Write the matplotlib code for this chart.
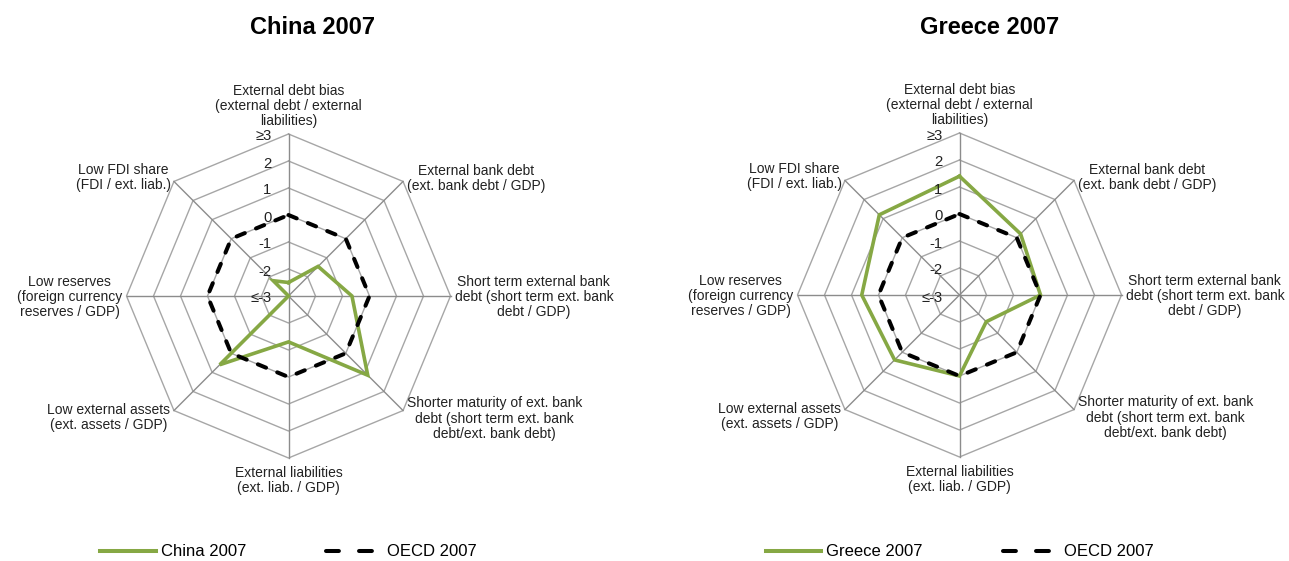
import numpy as np
import matplotlib
matplotlib.use("Agg")
import matplotlib.pyplot as plt
from matplotlib.lines import Line2D

# ---------------- data ----------------
categories = [
    "External debt bias\n(external debt / external\nliabilities)",
    "External bank debt\n(ext. bank debt / GDP)",
    "Short term external bank\ndebt (short term ext. bank\ndebt / GDP)",
    "Shorter maturity of ext. bank\ndebt (short term ext. bank\ndebt/ext. bank debt)",
    "External liabilities\n(ext. liab. / GDP)",
    "Low external assets\n(ext. assets / GDP)",
    "Low reserves\n(foreign currency\nreserves / GDP)",
    "Low FDI share\n(FDI / ext. liab.)",
]
china_2007 = [-2.5, -1.45, -0.65, 1.15, -1.3, 0.6, -3.0, -2.2]
greece_2007 = [1.4, 0.2, 0.0, -1.6, 0.0, 0.4, 0.62, 1.2]
oecd_2007 = [0, 0, 0, 0, 0, 0, 0, 0]
tick_values = [-3, -2, -1, 0, 1, 2, 3]
tick_labels = ["≤-3", "-2", "-1", "0", "1", "2", "≥3"]
charts = [("China 2007", china_2007), ("Greece 2007", greece_2007)]
oecd_label = "OECD 2007"

# ---------------- style ----------------
plt.rcParams["font.family"] = ["Liberation Sans", "DejaVu Sans"]
FS = 10
TICK_FS = 10.6
LEG_FS = 12
GREEN = "#86a844"
GRID = "#a6a6a6"
SPOKE = "#8c8c8c"

W, H = 1289, 561
fig = plt.figure(figsize=(W / 100, H / 100), dpi=100)
R = 162
PX = 0.72  # points per pixel at 100 dpi

centers = [(288.5, 296), (959.5, 295)]
title_x = [312, 990]

# label placement (ha, va, dx px, dy px) relative to each outer vertex
label_pos = [
    ("center", "bottom", 0, 6),
    ("left", "center", 4, 3),
    ("left", "center", 4, -1),
    ("left", "center", 4, -8),
    ("center", "top", 0, -8),
    ("right", "center", -4, -7),
    ("right", "center", -4, -1),
    ("right", "center", -3, 4),
]

n = len(categories)
angles = np.arange(n) * 2 * np.pi / n
ang_closed = np.append(angles, angles[0])

for (title, values), (cx, cy), tx in zip(charts, centers, title_x):
    ax = fig.add_axes([(cx - R) / W, (H - cy - R) / H, 2 * R / W, 2 * R / H],
                      projection="polar")
    ax.set_theta_zero_location("N")
    ax.set_theta_direction(-1)
    ax.set_ylim(tick_values[0], tick_values[-1])
    ax.set_xticks([])
    ax.set_yticks([])
    ax.grid(False)
    ax.spines["polar"].set_visible(False)
    ax.patch.set_visible(False)

    # octagonal grid rings
    for lv in tick_values[1:]:
        ax.plot(ang_closed, [lv] * (n + 1), color=GRID, lw=1.0, clip_on=False, zorder=1)
    # spokes
    for a in angles:
        ax.plot([a, a], [tick_values[0], tick_values[-1]], color=SPOKE, lw=1.0,
                clip_on=False, zorder=1)

    # series
    ax.plot(ang_closed, list(values) + [values[0]], color=GREEN, lw=2.6,
            solid_joinstyle="miter", clip_on=False, zorder=3)
    ax.plot(ang_closed, oecd_2007 + [oecd_2007[0]], color="black", lw=2.9,
            linestyle=(0, (2.2, 3.0)), dash_capstyle="round", clip_on=False, zorder=4)

    # tick labels
    for v, lab in zip(tick_values, tick_labels):
        ax.annotate(lab, xy=(0, v), xytext=(-17 * PX, -2.5 * PX), textcoords="offset points",
                    ha="right", va="center", fontsize=TICK_FS, color="#222222")

    # category labels
    for a, cat, (ha, va, dx, dy) in zip(angles, categories, label_pos):
        ax.annotate(cat, xy=(a, tick_values[-1]), xytext=(dx * PX, dy * PX),
                    textcoords="offset points", ha=ha, va=va, multialignment="center",
                    fontsize=FS, linespacing=1.1, color="#222222", annotation_clip=False)

    fig.text(tx / W, 1 - 27 / H, title, ha="center", va="center",
             fontsize=17, fontweight="bold")

    handles = [
        Line2D([], [], color=GREEN, lw=2.9),
        Line2D([], [], color="black", lw=2.9, linestyle=(0, (3.2, 5.0)),
               dash_capstyle="round"),
    ]
    fig.legend(handles=handles, labels=[title, oecd_label], loc="center",
               bbox_to_anchor=(cx / W, 1 - 552 / H), ncol=2, frameon=False,
               fontsize=LEG_FS, handlelength=3.35, handletextpad=0.3,
               columnspacing=4.8, borderaxespad=0, borderpad=0.2)

fig.savefig("out.png", dpi=100, facecolor="white")
